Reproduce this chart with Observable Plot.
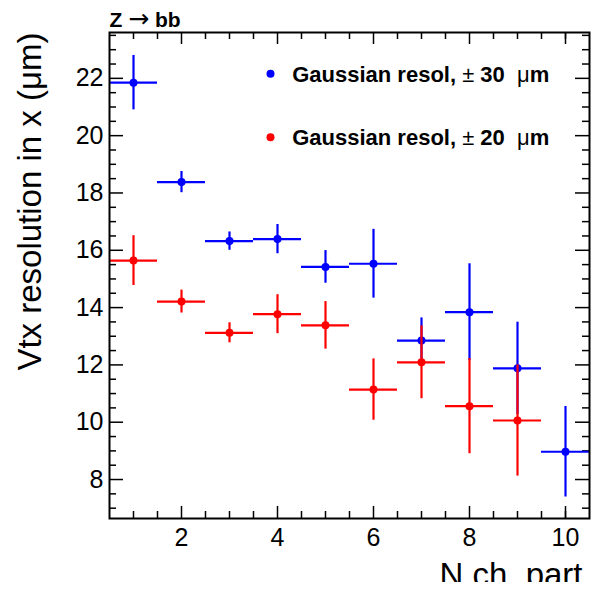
<!DOCTYPE html>
<html><head><meta charset="utf-8">
<script src="https://cdn.jsdelivr.net/npm/d3@7"></script>
<script src="https://cdn.jsdelivr.net/npm/@observablehq/plot@0.6"></script>
<style>
html,body{margin:0;padding:0;background:#fff;}
#chart{width:592px;height:589px;background:#fff;}
</style></head><body><div id="chart"></div>
<script>
// ---- data ----
const blueNch = [1, 2, 3, 4, 5, 6, 7, 8, 9, 10];
const blueRes = [21.85, 18.38, 16.32, 16.39, 15.42, 15.53, 12.85, 13.84, 11.88, 8.97];
const blueErr = [0.95, 0.37, 0.32, 0.51, 0.57, 1.20, 0.79, 1.69, 1.61, 1.58];
const redNch = [1, 2, 3, 4, 5, 6, 7, 8, 9];
const redRes = [15.64, 14.21, 13.12, 13.77, 13.38, 11.14, 12.09, 10.56, 10.06];
const redErr = [0.87, 0.40, 0.35, 0.68, 0.83, 1.07, 1.27, 1.66, 1.94];
const binHalfWidth = 0.5;
const xTickLabels = [2, 4, 6, 8, 10];
const yTickLabels = [8, 10, 12, 14, 16, 18, 20, 22];
const xMinorTicks = [1, 1.5, 2.5, 3, 3.5, 4.5, 5, 5.5, 6.5, 7, 7.5, 8.5, 9, 9.5, 10];
const yMinorTicks = [7, 7.5, 8.5, 9, 9.5, 10.5, 11, 11.5, 12.5, 13, 13.5, 14.5, 15, 15.5, 16.5, 17, 17.5, 18.5, 19, 19.5, 20.5, 21, 21.5, 22.5, 23, 23.5];
const legendLabels = ["Gaussian resol, \u00b1 30  \u03bcm", "Gaussian resol, \u00b1 20  \u03bcm"];
const titleText = "Z \u2192 bb";
const yTitle = "Vtx resolution in x (\u03bcm)";
const xTitle = "N ch. part";

const BLUE = "#0000ff", RED = "#ff0000";
const blueData = blueNch.map((n, i) => ({n, v: blueRes[i], e: blueErr[i]}));
const redData = redNch.map((n, i) => ({n, v: redRes[i], e: redErr[i]}));

const W = 592, H = 582, mL = 109, mR = 3, mT = 32, mB = 64;
const pw = W - mL - mR, ph = H - mT - mB;

function series(data, color) {
  return [
    Plot.ruleX(data, {x: "n", y1: d => d.v - d.e, y2: d => d.v + d.e, stroke: color, strokeWidth: 2.2}),
    Plot.ruleY(data, {y: "v", x1: d => d.n - binHalfWidth, x2: d => d.n + binHalfWidth, stroke: color, strokeWidth: 2.2}),
    Plot.dot(data, {x: "n", y: "v", r: 4, fill: color, stroke: "none"})
  ];
}

const tk = {stroke: "black", strokeWidth: 1.5};
const chart = Plot.plot({
  width: W, height: H,
  marginLeft: mL, marginRight: mR, marginTop: mT, marginBottom: mB,
  style: {fontFamily: "'Liberation Sans', Arial, Helvetica, sans-serif", background: "white", overflow: "hidden", color: "black"},
  x: {domain: [0.5, 10.5], axis: null},
  y: {domain: [6.64, 23.6], axis: null},
  marks: [
    Plot.tickY(yTickLabels, {y: d => d, insetRight: pw - 14, ...tk}),
    Plot.tickY(yMinorTicks, {y: d => d, insetRight: pw - 7, ...tk}),
    Plot.tickY(yTickLabels, {y: d => d, insetLeft: pw - 14, ...tk}),
    Plot.tickY(yMinorTicks, {y: d => d, insetLeft: pw - 7, ...tk}),
    Plot.tickX(xTickLabels, {x: d => d, insetTop: ph - 12, ...tk}),
    Plot.tickX(xMinorTicks, {x: d => d, insetTop: ph - 7, ...tk}),
    Plot.tickX(xTickLabels, {x: d => d, insetBottom: ph - 12, ...tk}),
    Plot.tickX(xMinorTicks, {x: d => d, insetBottom: ph - 7, ...tk}),
    Plot.axisX(xTickLabels, {anchor: "bottom", tickSize: 0, tickPadding: 10, fontSize: 25, label: null}),
    Plot.axisY(yTickLabels, {anchor: "left", tickSize: 0, tickPadding: 6, fontSize: 25, label: null}),
    ...series(blueData, BLUE),
    ...series(redData, RED),
    Plot.frame({stroke: "black", strokeWidth: 2}),
    Plot.dot([0], {frameAnchor: "top-left", dx: 161, dy: 41.3, r: 4, fill: BLUE}),
    Plot.dot([0], {frameAnchor: "top-left", dx: 161, dy: 104.7, r: 4, fill: RED}),
    Plot.text([legendLabels[0]], {text: d => d, frameAnchor: "top-left", dx: 182.7, dy: 49.7, textAnchor: "start", lineAnchor: "bottom", fontSize: 22, fontWeight: "bold", className: "leg"}),
    Plot.text([legendLabels[1]], {text: d => d, frameAnchor: "top-left", dx: 182.7, dy: 112.3, textAnchor: "start", lineAnchor: "bottom", fontSize: 22, fontWeight: "bold", className: "leg"}),
    Plot.text([titleText], {text: d => d, frameAnchor: "top-left", dx: 0, dy: -6, textAnchor: "start", lineAnchor: "bottom", fontSize: 21, fontWeight: "bold", className: "ttl"}),
    Plot.text([yTitle], {text: d => d, frameAnchor: "top-left", dx: -69, dy: 0, rotate: -90, textAnchor: "end", lineAnchor: "bottom", fontSize: 33}),
    Plot.text([xTitle], {text: d => d, frameAnchor: "bottom-right", dx: -7, dy: 67, textAnchor: "end", lineAnchor: "bottom", fontSize: 33})
  ]
});
document.getElementById("chart").appendChild(chart);

// symbol glyphs in regular weight, like ROOT's symbol font
function splitSymbols(sel, symbols, family, size) {
  sel.selectAll("text").each(function () {
    const t = d3.select(this);
    const s = this.textContent;
    t.text(null);
    let buf = "";
    const flush = () => { if (buf) { t.append("tspan").text(buf); buf = ""; } };
    for (const ch of s) {
      if (symbols.includes(ch)) {
        flush();
        const ts = t.append("tspan").attr("font-weight", "normal").attr("font-family", family).text(ch);
        if (size) ts.attr("font-size", size);
      } else buf += ch;
    }
    flush();
  });
}
const svg = d3.select(chart);
splitSymbols(svg.selectAll("g.leg"), ["\u00b1", "\u03bc"], "'Liberation Sans', Arial, sans-serif");
splitSymbols(svg.selectAll("g.ttl"), ["\u2192"], "'DejaVu Sans', sans-serif", 25);
</script></body></html>
